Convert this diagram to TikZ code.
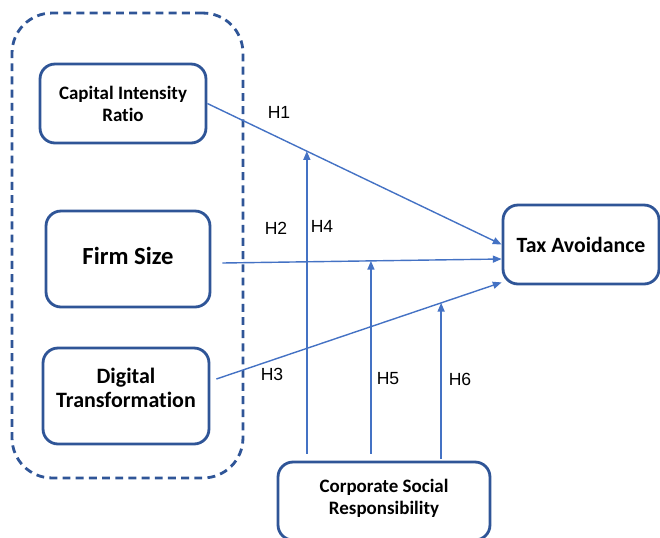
\documentclass[tikz,border=0pt]{standalone}
\usepackage{fontspec}
\setmainfont{Carlito}[Ligatures=CommonOff]
\newfontfamily\hfont{Liberation Sans}
\usetikzlibrary{arrows.meta,positioning,calc}

\definecolor{boxblue}{HTML}{2F5597}
\definecolor{linkblue}{HTML}{4472C4}

\begin{document}
\begin{tikzpicture}
    [x=0.02cm,y=-0.02cm,
     var/.style={rounded corners=0.3cm,rectangle,draw=boxblue,line width=1.6pt,align=center,inner sep=0pt},
     link/.style={draw=linkblue,line width=0.8pt,-{Triangle[length=5pt,width=4pt]}},
     hyp/.style={font=\hfont\fontsize{10}{12}\selectfont,inner sep=1pt}]

    \useasboundingbox (0,0) rectangle (660,538);

    % dashed group round the three predictors
    \node[draw=boxblue,line width=1.6pt,dash pattern=on 4.5pt off 3pt,rounded corners=0.8cm,
          minimum width=4.62cm,minimum height=9.3cm,inner sep=0pt] (group) at (127.5,245.5) {};

    \node[var,minimum width=3.32cm,minimum height=1.58cm,font=\bfseries\fontsize{10.8}{12.5}\selectfont] (cap) at (123,103.5) {Capital Intensity\\Ratio};
    \node[var,minimum width=3.28cm,minimum height=1.92cm,font=\bfseries\fontsize{14}{16}\selectfont,text depth=0.12cm] (firm) at (128,259) {Firm Size};
    \node[var,minimum width=3.32cm,minimum height=1.92cm,font=\bfseries\fontsize{12.5}{14}\selectfont,text depth=0.33cm] (digital) at (126,396) {Digital\\Transformation};
    \node[var,minimum width=3.12cm,minimum height=1.58cm,font=\bfseries\fontsize{12.4}{14}\selectfont] (tax) at (581,244.5) {Tax Avoidance};
    \node[var,minimum width=4.24cm,minimum height=1.56cm,font=\bfseries\fontsize{10.8}{12.5}\selectfont,text depth=0.15cm] (csr) at (384,501) {Corporate Social\\Responsibility};

    % direct paths
    \coordinate (h2a) at ($(firm.east)+(11,4)$);
    \coordinate (h2b) at ($(tax.west)+(0,14.5)$);
    \coordinate (h3a) at ($(digital.east)+(6,-17)$);
    \coordinate (h3b) at ($(tax.south west)+(0,-3)$);
    \draw[link] (cap.east) -- (tax.west);
    \draw[link] (h2a) -- (h2b);
    \draw[link] (h3a) -- (h3b);

    % moderating paths from CSR
    \coordinate (m4) at ($(cap.east)!0.338!(tax.west)$);
    \coordinate (m5) at ($(h2a)!0.532!(h2b)$);
    \coordinate (m6) at ($(h3a)!0.788!(h3b)$);
    \draw[link] ($(m4 |- csr.north)+(0,-7)$) -- (m4);
    \draw[link] ($(m5 |- csr.north)+(0,-7)$) -- (m5);
    \draw[link] ($(m6 |- csr.north)+(0,-2)$) -- (m6);

    \node[hyp] (lh1) at (279,112) {H1};
    \node[hyp] (lh2) at (276,228) {H2};
    \node[hyp] (lh3) at (272,374) {H3};
    \node[hyp] (lh4) at (322,226) {H4};
    \node[hyp] (lh5) at (388,379) {H5};
    \node[hyp] (lh6) at (460,379) {H6};
\end{tikzpicture}
\end{document}
